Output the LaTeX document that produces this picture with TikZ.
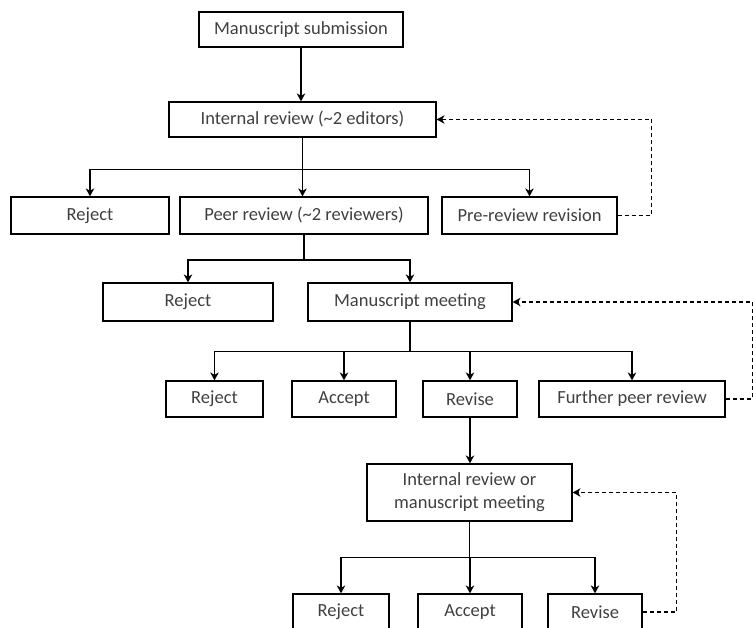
\documentclass[tikz,border=0pt]{standalone}
\usepackage{fontspec}
\setmainfont{Carlito}
\usetikzlibrary{arrows.meta}

\begin{document}
\begin{tikzpicture}[x=1pt,y=-1pt,
    hop/.style={draw, line width=1.2pt, minimum height=36pt, inner sep=0pt, text=black!75, align=center, font=\fontsize{18.5}{23}\selectfont},
    mui/.style={-{Stealth[length=8pt,width=8.5pt,inset=2.5pt]}, line width=1.3pt},
    vong/.style={mui, line width=1.1pt, dash pattern=on 4pt off 3pt}]
    \useasboundingbox (0,0) rectangle (753,628);
    % Nộp bản thảo và xét duyệt nội bộ
    \node[hop, minimum width=204pt, minimum height=35pt] (sub) at (301,29.5) {Manuscript submission};
    \node[hop, minimum width=267pt, minimum height=35pt] (ir) at (302.5,119.5) {Internal review (\textasciitilde2 editors)};
    \draw[mui] (sub.south) -- (sub.south |- ir.north);
    % Tầng 1
    \node[hop, minimum width=158pt, minimum height=37pt] (rej1) at (90,215.5) {Reject};
    \node[hop, minimum width=248pt, minimum height=37pt] (pr) at (304,215.5) {Peer review (\textasciitilde2 reviewers)};
    \node[hop, minimum width=175pt, minimum height=37pt] (pre) at (529.5,215.5) {Pre-review revision};
    \path (ir.south) ++(0,32) coordinate (b1);
    \draw[mui] (b1) -| (rej1.north);
    \draw[mui] (b1) -| (pre.north);
    \draw[mui] (ir.south) -- (ir.south |- pr.north);
    \draw[vong] (pre.east) -- ++(34,0) |- (ir.east);
    % Tầng 2
    \node[hop, minimum width=170pt, minimum height=38pt] (rej2) at (188,302) {Reject};
    \node[hop, minimum width=204pt, minimum height=38pt] (mm) at (410,302) {Manuscript meeting};
    \path (pr.south) ++(0,25.5) coordinate (b2);
    \draw[line width=1.3pt] (pr.south) -- (b2);
    \draw[mui] (b2) -| (rej2.north);
    \draw[mui] (b2) -| (mm.north);
    % Tầng 3
    \node[hop, minimum width=97pt] (rej3) at (214.5,399) {Reject};
    \node[hop, minimum width=104pt] (acc3) at (344,399) {Accept};
    \node[hop, minimum width=94pt] (rev3) at (470,399) {Revise};
    \node[hop, minimum width=186pt] (fur) at (632,399) {Further peer review};
    \path (mm.south) ++(0,30) coordinate (b3);
    \draw[line width=1.3pt] (mm.south) -- (b3);
    \draw[mui] (b3) -| (rej3.north);
    \draw[mui] (b3) -| (acc3.north);
    \draw[mui] (b3) -| (rev3.north);
    \draw[mui] (b3) -| (fur.north);
    \draw[vong] (fur.east) -- ++(26.5,0) |- (mm.east);
    % Xét duyệt lại
    \node[hop, minimum width=205pt, minimum height=57pt] (irmm) at (469.5,492.5) {Internal review or\\manuscript meeting};
    \draw[mui] (rev3.south) -- (rev3.south |- irmm.north);
    % Tầng 4
    \node[hop, minimum width=96pt] (rej4) at (341,612) {Reject};
    \node[hop, minimum width=104pt] (acc4) at (470,612) {Accept};
    \node[hop, minimum width=94pt] (rev4) at (595,612) {Revise};
    \path (irmm.south) ++(0,36) coordinate (b4);
    \draw[line width=1.3pt] (irmm.south) -- (b4);
    \draw[mui] (b4) -| (rej4.north);
    \draw[mui] (b4) -| (acc4.north);
    \draw[mui] (b4) -| (rev4.north);
    \draw[vong] (rev4.east) -- ++(34,0) |- (irmm.east);
\end{tikzpicture}
\end{document}
